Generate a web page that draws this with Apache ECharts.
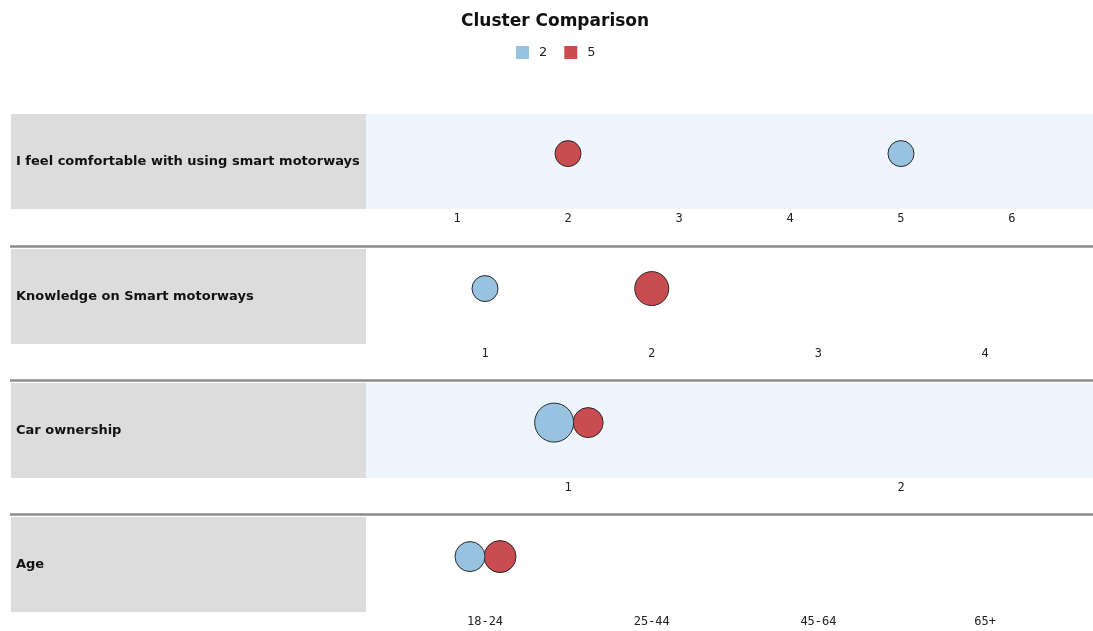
<!DOCTYPE html>
<html>
<head>
<meta charset="utf-8">
<script src="https://cdn.jsdelivr.net/npm/echarts@6/dist/echarts.min.js"></script>
<style>html,body{margin:0;padding:0;background:#fff}#c{width:1093px;height:631px}</style>
</head>
<body>
<div id="c"></div>
<script>
// ---- data ----
const titleText = 'Cluster Comparison';
const clusterNames = ['2', '5'];
const rowLabels = ['I feel comfortable with using smart motorways', 'Knowledge on Smart motorways', 'Car ownership', 'Age'];
const row1Ticks = ['1', '2', '3', '4', '5', '6'];
const row2Ticks = ['1', '2', '3', '4'];
const row3Ticks = ['1', '2'];
const row4Ticks = ['18-24', '25-44', '45-64', '65+'];
// cluster mean positions per row (cluster 2, cluster 5)
const cluster2Values = [5.0, 1.0, 0.958, 0.91];
const cluster5Values = [2.0, 2.0, 1.06, 1.09];
// bubble magnitude per row (cluster 2, cluster 5)
const cluster2Sizes = [26, 26, 39, 30];
const cluster5Sizes = [26, 34, 30, 32];

// ---- layout ----
const tickSets = [row1Ticks, row2Ticks, row3Ticks, row4Ticks];
const axisRanges = [[0.18, 6.73], [0.286, 4.647], [0.393, 2.576], [0.286, 4.647]];
const rowTops = [114, 249, 383, 517];
const rowHeight = 95;
const plotLeft = 366;
const shaded = [true, false, true, false];
const colors = ['#97c2e0', '#c94c50'];

const grids = [], xAxes = [], yAxes = [], series = [], graphics = [];
rowTops.forEach((top, i) => {
  grids.push({
    left: plotLeft, right: 0, top: top, height: rowHeight,
    show: true, borderWidth: 0,
    backgroundColor: shaded[i] ? '#eef5fd' : '#ffffff'
  });
  const ticks = tickSets[i];
  xAxes.push({
    type: 'value', gridIndex: i, min: axisRanges[i][0], max: axisRanges[i][1],
    axisLine: {show: false}, axisTick: {show: false}, splitLine: {show: false},
    axisLabel: {
      margin: 4, color: '#222', fontSize: 12, fontFamily: 'DejaVu Sans Mono',
      showMinLabel: false, showMaxLabel: false,
      formatter: v => {
        const r = Math.round(v);
        if (Math.abs(v - r) < 1e-6 && r >= 1 && r <= ticks.length) return ticks[r - 1];
        return '';
      }
    }
  });
  yAxes.push({
    type: 'value', gridIndex: i, min: -0.2, max: 1,
    axisLine: {show: false}, axisTick: {show: false}, splitLine: {show: false},
    axisLabel: {show: false},
    name: rowLabels[i], nameLocation: 'middle', nameRotate: 0, nameGap: 350,
    nameTextStyle: {align: 'left', fontWeight: 'bold', fontSize: 13, color: '#111', fontFamily: 'DejaVu Sans'}
  });
  [cluster2Values, cluster5Values].forEach((vals, k) => {
    const sizes = k === 0 ? cluster2Sizes : cluster5Sizes;
    series.push({
      name: clusterNames[k], type: 'scatter', xAxisIndex: i, yAxisIndex: i,
      data: [[vals[i], 0.5, sizes[i]]],
      symbolSize: d => d[2],
      itemStyle: {color: colors[k], borderColor: '#2a2a2a', borderWidth: 1, opacity: 1},
      z: k === 0 ? 3 : 2
    });
  });
  graphics.push({
    type: 'rect', z: -1, silent: true,
    shape: {x: 11, y: top, width: plotLeft - 11, height: rowHeight},
    style: {fill: '#dcdcdd'}
  });
  if (i > 0) {
    graphics.push({
      type: 'line', silent: true,
      shape: {x1: 10, y1: top - 2.5, x2: 1093, y2: top - 2.5},
      style: {stroke: '#8c8c8c', lineWidth: 2.5}
    });
  }
});

const chart = echarts.init(document.getElementById('c'));
chart.setOption({
  animation: false,
  backgroundColor: '#ffffff',
  title: {
    text: titleText, left: 456, top: 8,
    textStyle: {fontSize: 17, fontWeight: 'bold', color: '#111', fontFamily: 'DejaVu Sans'}
  },
  legend: {
    data: clusterNames, top: 41, left: 511, icon: 'rect',
    itemWidth: 13, itemHeight: 13, itemGap: 17,
    itemStyle: {borderWidth: 0},
    textStyle: {fontSize: 13, color: '#222', fontFamily: 'DejaVu Sans', padding: [0, 0, 0, 5]}
  },
  grid: grids, xAxis: xAxes, yAxis: yAxes, series: series,
  graphic: graphics
});
</script>
</body>
</html>
